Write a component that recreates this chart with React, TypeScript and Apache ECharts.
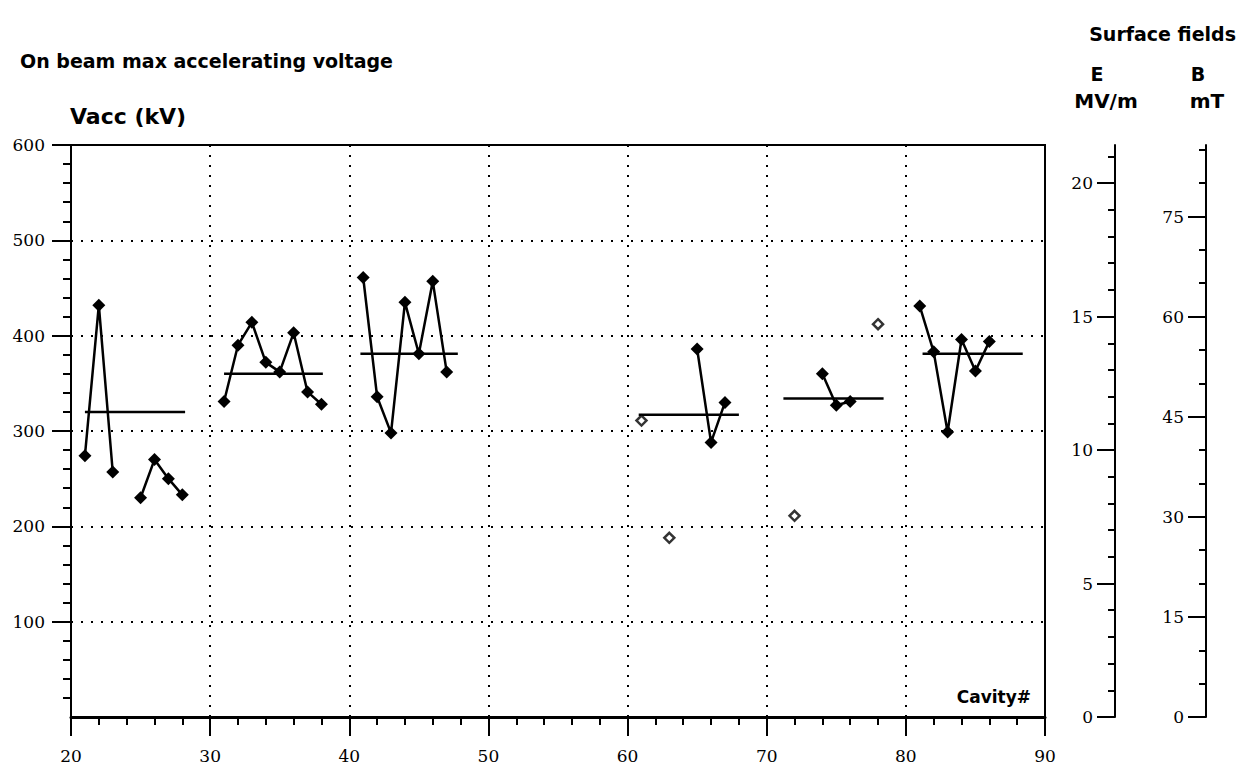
import React, { useEffect, useRef } from "react";
import * as echarts from "echarts";

// ---- data ----
const g1aCav = [21, 22, 23];
const g1aV = [274, 432, 257];
const g1bCav = [25, 26, 27, 28];
const g1bV = [230, 270, 250, 233];
const g2Cav = [31, 32, 33, 34, 35, 36, 37, 38];
const g2V = [331, 390, 414, 372, 362, 403, 341, 328];
const g3Cav = [41, 42, 43, 44, 45, 46, 47];
const g3V = [461, 336, 298, 435, 381, 457, 362];
const g4Cav = [65, 66, 67];
const g4V = [386, 288, 330];
const g5Cav = [74, 75, 76];
const g5V = [360, 327, 331];
const g6Cav = [81, 82, 83, 84, 85, 86];
const g6V = [431, 383, 299, 396, 363, 394];
const openCav = [61, 63, 72, 78];
const openV = [311, 188, 211, 412];
const meanStart = [21, 31, 40.8, 60.8, 71.2, 81.2];
const meanEnd = [28.2, 38.1, 47.8, 68, 78.4, 88.4];
const meanV = [320, 360, 381, 317, 334, 381];

// ---- axis ticks / labels ----
const xTicks = [20, 30, 40, 50, 60, 70, 80, 90];
const vaccMajor = [100, 200, 300, 400, 500, 600];
const eMajor = [0, 5, 10, 15, 20];
const eMinor = [1, 2, 3, 4, 6, 7, 8, 9, 11, 12, 13, 14, 16, 17, 18, 19, 21];
const bMajor = [0, 15, 30, 45, 60, 75];
const bMinor = [5, 10, 20, 25, 35, 40, 50, 55, 65, 70, 80, 85];
const VACC_MAX = 600;
const E_MAX = VACC_MAX / 28; // kV -> MV/m
const B_MAX = VACC_MAX / 7; // kV -> mT

const SANS = "DejaVu Sans, sans-serif";
const TICK_FONT = "normal 17px DejaVu Serif, serif";

const zip = (xs: number[], ys: number[]) => xs.map((x, i) => [x, ys[i]]);

export default function App() {
  const ref = useRef<HTMLDivElement>(null);
  useEffect(() => {
    const chart = echarts.init(ref.current!, null, { renderer: "svg" });
    const lineSeries = (data: number[][]) => ({
      type: "line",
      data,
      symbol: "diamond",
      symbolSize: 13,
      lineStyle: { color: "#000", width: 2.5 },
      itemStyle: { color: "#000" },
      z: 5,
    });
    const meanSeries = meanV.map((v, i) => ({
      type: "line",
      data: [
        [meanStart[i], v],
        [meanEnd[i], v],
      ],
      symbol: "none",
      lineStyle: { color: "#000", width: 2.5 },
      z: 4,
    }));
    const rightAxis = (
      offset: number,
      max: number,
      values: number[],
      major: boolean
    ) => ({
      type: "value",
      position: "right",
      offset,
      min: 0,
      max,
      axisLine: { show: major, lineStyle: { color: "#000", width: 2 } },
      axisTick: {
        show: true,
        inside: true,
        length: major ? 18 : 7,
        customValues: values,
        lineStyle: { color: "#000", width: 2 },
      },
      axisLabel: { show: false },
      splitLine: { show: false },
    });
    const text = (
      t: string,
      x: number,
      y: number,
      font: string,
      align: string
    ) => ({
      type: "text",
      x,
      y,
      silent: true,
      style: {
        text: t,
        font,
        fill: "#000",
        textAlign: align,
        textVerticalAlign: "middle",
      },
    });
    const bold = (s: number) => `bold ${s}px ${SANS}`;
    chart.setOption({
      animation: false,
      backgroundColor: "#fff",
      grid: {
        left: 71,
        right: 198,
        top: 145,
        bottom: 51,
        show: true,
        borderColor: "#000",
        borderWidth: 2,
      },
      xAxis: {
        type: "value",
        min: 20,
        max: 90,
        interval: 10,
        axisLine: { show: true, onZero: false, lineStyle: { color: "#000", width: 3 } },
        axisTick: { show: true, length: 19, lineStyle: { color: "#000", width: 2 } },
        minorTick: { show: true, splitNumber: 5, length: 8, lineStyle: { color: "#000", width: 2 } },
        axisLabel: { show: false },
        splitLine: { show: true, lineStyle: { color: "#000", width: 2, type: [2, 8] } },
      },
      yAxis: [
        {
          type: "value",
          position: "left",
          min: 0,
          max: VACC_MAX,
          interval: 100,
          axisLine: { show: true, lineStyle: { color: "#000", width: 2 } },
          axisTick: {
            show: true,
            length: 19,
            customValues: vaccMajor,
            lineStyle: { color: "#000", width: 2 },
          },
          minorTick: { show: true, splitNumber: 5, length: 8, lineStyle: { color: "#000", width: 2 } },
          axisLabel: { show: false },
          splitLine: { show: true, lineStyle: { color: "#000", width: 2, type: [2, 8] } },
        },
        rightAxis(70, E_MAX, eMajor, true),
        rightAxis(70, E_MAX, eMinor, false),
        rightAxis(161, B_MAX, bMajor, true),
        rightAxis(161, B_MAX, bMinor, false),
      ],
      series: [
        lineSeries(zip(g1aCav, g1aV)),
        lineSeries(zip(g1bCav, g1bV)),
        lineSeries(zip(g2Cav, g2V)),
        lineSeries(zip(g3Cav, g3V)),
        lineSeries(zip(g4Cav, g4V)),
        lineSeries(zip(g5Cav, g5V)),
        lineSeries(zip(g6Cav, g6V)),
        ...meanSeries,
        {
          type: "scatter",
          data: zip(openCav, openV),
          symbol: "diamond",
          symbolSize: 10,
          itemStyle: { color: "#fff", borderColor: "#000", borderWidth: 2.5 },
          z: 6,
        },
      ],
    });

    // tick labels placed through the axes' own scales
    const px = (axis: any, v: number) => chart.convertToPixel(axis, v) as number;
    const x0 = px({ xAxisIndex: 0 }, 20);
    const yBase = px({ yAxisIndex: 0 }, 0);
    const xRight = px({ xAxisIndex: 0 }, 90);
    const eX = xRight + 70;
    const bX = xRight + 161;
    const labels: any[] = [
      ...xTicks.map((v) => text(String(v), px({ xAxisIndex: 0 }, v), yBase + 39, TICK_FONT, "center")),
      ...vaccMajor.map((v) => text(String(v), x0 - 26, px({ yAxisIndex: 0 }, v), TICK_FONT, "right")),
      ...eMajor.map((v) => text(String(v), eX - 22, px({ yAxisIndex: 1 }, v), TICK_FONT, "right")),
      ...bMajor.map((v) => text(String(v), bX - 22, px({ yAxisIndex: 3 }, v), TICK_FONT, "right")),
    ];
    chart.setOption({
      graphic: [
        text("On beam max accelerating voltage", 20, 61, bold(19), "left"),
        text("Vacc (kV)", 70, 116, bold(22), "left"),
        text("Surface fields", 1236, 34, bold(19), "right"),
        text("E", 1097, 74, bold(19), "center"),
        text("B", 1198, 74, bold(19), "center"),
        text("MV/m", 1106, 101, bold(20), "center"),
        text("mT", 1207, 101, bold(20), "center"),
        text("Cavity#", 1031, 697, bold(17), "right"),
        ...labels,
      ],
    });
    return () => chart.dispose();
  }, []);
  return (
    <div
      ref={ref}
      style={{ position: "absolute", left: 0, top: 0, width: 1243, height: 768 }}
    />
  );
}
